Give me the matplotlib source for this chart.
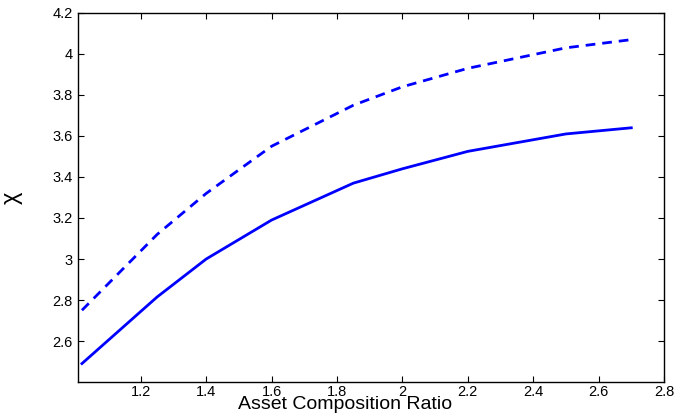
import matplotlib
matplotlib.use("Agg")
import matplotlib.pyplot as plt

ratio = [1.02, 1.25, 1.4, 1.6, 1.85, 2.0, 2.2, 2.5, 2.7]
chi_solid = [2.49, 2.815, 3.0, 3.19, 3.37, 3.44, 3.525, 3.61, 3.64]
chi_dashed = [2.75, 3.12, 3.32, 3.55, 3.75, 3.84, 3.93, 4.03, 4.07]
xticks = [1.2, 1.4, 1.6, 1.8, 2.0, 2.2, 2.4, 2.6, 2.8]
xtick_labels = ["1.2", "1.4", "1.6", "1.8", "2", "2.2", "2.4", "2.6", "2.8"]
yticks = [2.6, 2.8, 3.0, 3.2, 3.4, 3.6, 3.8, 4.0, 4.2]
ytick_labels = ["2.6", "2.8", "3", "3.2", "3.4", "3.6", "3.8", "4", "4.2"]

plt.rcParams["font.family"] = ["Liberation Sans", "DejaVu Sans"]

fig = plt.figure(figsize=(6.75, 4.15), dpi=100)
ax = fig.add_axes([0.1156, 0.0795, 0.8681, 0.8892])

ax.plot(ratio, chi_solid, color="#0000ff", lw=2.0)
ax.plot(ratio, chi_dashed, color="#0000ff", lw=2.0, dashes=(3.5, 2.5))

ax.set_xlim(1.008, 2.8)
ax.set_ylim(2.4, 4.2)
ax.set_xticks(xticks)
ax.set_xticklabels(xtick_labels)
ax.set_yticks(yticks)
ax.set_yticklabels(ytick_labels)
ax.tick_params(direction="in", top=True, right=True, length=4, width=0.8,
               labelsize=10.5)
ax.tick_params(axis="x", pad=2)
ax.tick_params(axis="y", pad=4)
for s in ax.spines.values():
    s.set_linewidth(1.0)

ax.set_xlabel("Asset Composition Ratio", fontsize=14)
ax.xaxis.label.set_va("baseline")
ax.xaxis.set_label_coords(0.456, -0.0745)
ax.set_ylabel("χ", fontsize=17)
ax.yaxis.set_label_coords(-0.094, 0.5)

fig.savefig("out.png", dpi=100)
